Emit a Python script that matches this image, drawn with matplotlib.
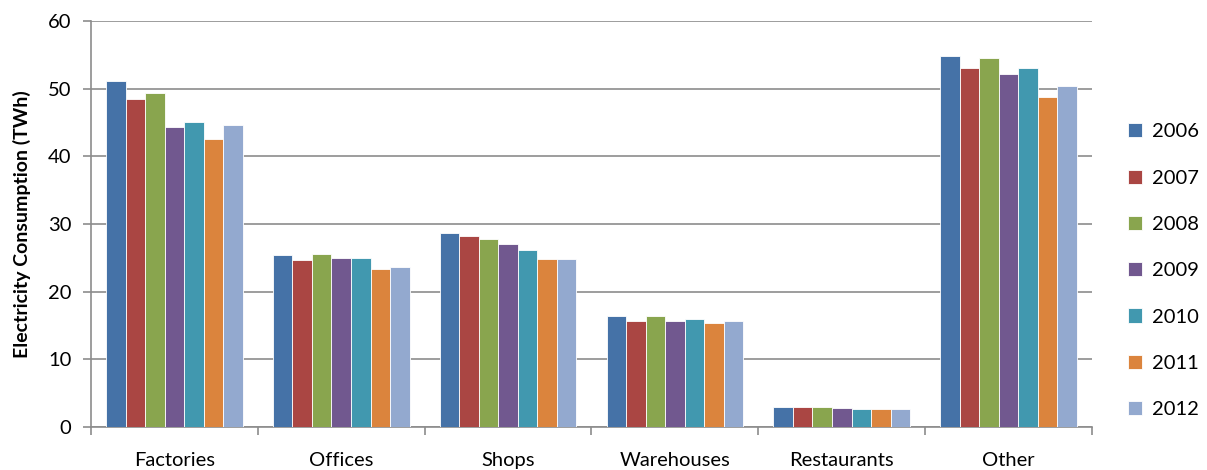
import matplotlib
matplotlib.use("Agg")
import matplotlib.pyplot as plt
import numpy as np

categories = ["Factories", "Offices", "Shops", "Warehouses", "Restaurants", "Other"]
years = ["2006", "2007", "2008", "2009", "2010", "2011", "2012"]
v2006 = [51.1, 25.4, 28.7, 16.4, 3.0, 54.9]
v2007 = [48.5, 24.7, 28.2, 15.7, 3.0, 53.0]
v2008 = [49.4, 25.6, 27.8, 16.4, 2.9, 54.5]
v2009 = [44.4, 25.0, 27.1, 15.7, 2.8, 52.1]
v2010 = [45.1, 25.0, 26.2, 15.9, 2.6, 53.0]
v2011 = [42.6, 23.3, 24.9, 15.4, 2.6, 48.7]
v2012 = [44.7, 23.6, 24.8, 15.6, 2.6, 50.4]
series = [v2006, v2007, v2008, v2009, v2010, v2011, v2012]
colors = ["#4572A7", "#AA4643", "#89A54E", "#71588F", "#4198AF", "#DB843D", "#93A9CF"]

plt.rcParams['font.family'] = ['Lato', 'DejaVu Sans']

fig = plt.figure(figsize=(12.07, 4.70), dpi=100)
ax = fig.add_axes([91/1207, 1-427/470, (1092-91)/1207, (427-21)/470])

n = len(series)
x = np.arange(len(categories))
group_w = 0.82
bw = group_w / n
for i, (vals, c, yr) in enumerate(zip(series, colors, years)):
    ax.bar(x - group_w/2 + bw*(i+0.5), vals, width=bw, color=c, edgecolor="white",
           linewidth=0.6, label=yr, zorder=3)

ax.set_xlim(-0.5, len(categories)-0.5)
ax.set_ylim(0, 60)
ax.set_yticks(range(0, 61, 10))
ax.yaxis.grid(True, color="#8c8c8c", linewidth=1.2, zorder=0)
ax.set_axisbelow(True)

ax.set_xticks(np.arange(-0.5, len(categories), 1.0))
ax.set_xticklabels([])
ax.set_xticks(x, minor=True)
ax.set_xticklabels(categories, minor=True, fontsize=14.5)
ax.tick_params(axis="x", which="minor", length=0, pad=18)
ax.tick_params(axis="x", which="major", length=6, color="#8c8c8c", width=1.2)
ax.tick_params(axis="y", length=6, color="#8c8c8c", width=1.2, labelsize=14.5, pad=8)

for s in ["top", "right"]:
    ax.spines[s].set_visible(False)
for s in ["left", "bottom"]:
    ax.spines[s].set_color("#8c8c8c")
    ax.spines[s].set_linewidth(1.2)

ax.set_ylabel("Electricity Consumption (TWh)", fontsize=14, fontweight="bold", labelpad=12)

leg = ax.legend(loc="center left", bbox_to_anchor=(1.018, 0.385), frameon=False,
                fontsize=14.5, handlelength=0.7, handleheight=0.7, labelspacing=1.45,
                handletextpad=0.5)

fig.savefig("out.png", dpi=100)
